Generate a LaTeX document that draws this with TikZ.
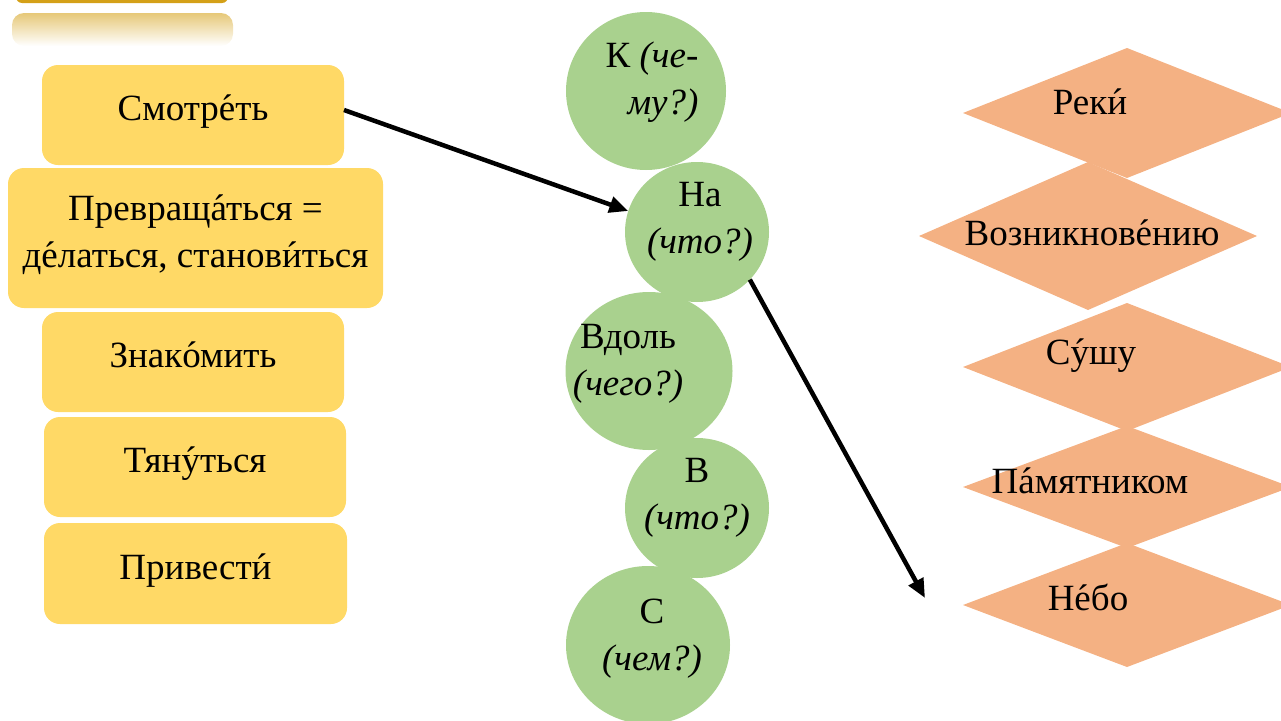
\documentclass[tikz,border=0pt]{standalone}
\usepackage{fontspec}
\setmainfont{Liberation Serif}
\usetikzlibrary{shapes.geometric,arrows.meta}
\definecolor{boxyellow}{HTML}{FFD966}
\definecolor{circgreen}{HTML}{A9D18E}
\definecolor{diaorange}{HTML}{F4B183}
\definecolor{topgold}{HTML}{D4A017}
\definecolor{fadegold}{HTML}{E6C878}
\newcommand\strs[1]{\accent"00B4 #1}
\begin{document}
\begin{tikzpicture}[x=1pt,y=-1pt,
  every node/.style={font=\fontsize{37}{47}\selectfont, inner sep=0pt, outer sep=0pt},
  ybox/.style={rectangle, rounded corners=16pt, fill=boxyellow, align=center, text depth=14pt},
  gcirc/.style={ellipse, fill=circgreen},
  odia/.style={diamond, fill=diaorange, minimum width=328pt},
  label/.style={align=center},
  conn/.style={line width=4.5pt, -{Triangle[length=19pt,width=16pt]}}]
\useasboundingbox (0,0) rectangle (1281,720);
\clip (0,0) rectangle (1281,720);
% top decorations
\fill[topgold, rounded corners=6pt] (16,-20) rectangle (228,3);
\shade[top color=fadegold, bottom color=white, rounded corners=12pt] (12,13) rectangle (233,46);
% yellow boxes
\node[ybox, minimum width=302pt, minimum height=100pt] (s1) at (193,115) {Смотр\strs{е}ть};
\node[ybox, minimum width=375pt, minimum height=140pt] (s2) at (195.5,238) {Превращ\strs{а}ться =\\д\strs{е}латься, станов\strs{и}ться};
\node[ybox, minimum width=302pt, minimum height=100pt] (s3) at (193,362) {Знак\strs{о}мить};
\node[ybox, minimum width=302pt, minimum height=100pt] (s4) at (195,467) {Тян\strs{у}ться};
\node[ybox, minimum width=303pt, minimum height=101pt] (s5) at (195.5,573.5) {Привест\strs{и}};
% green ellipses
\node[gcirc, minimum width=160pt, minimum height=158pt] (e1) at (646,91) {};
\node[gcirc, minimum width=167pt, minimum height=158pt] (e3) at (649,371) {};
\node[gcirc, minimum width=164pt, minimum height=158pt] (e5) at (648,645) {};
\node[gcirc, minimum width=144pt, minimum height=140pt] (e2) at (697,232) {};
\node[gcirc, minimum width=144pt, minimum height=140pt] (e4) at (697,508) {};
\node[label] (t1) at (652,82) {К \textit{(че-}\\\hspace*{22pt}\textit{му?)}};
\node[label] (t2) at (700,222) {На\\\textit{(что?)}};
\node[label] (t3) at (628,364) {Вдоль\\\textit{(чего?)}};
\node[label] (t4) at (697,498) {В\\\textit{(что?)}};
\node[label] (t5) at (652,639) {С\\\textit{(чем?)}};
% orange diamonds
\node[odia, minimum height=130pt] (d1) at (1127,113) {};
\node[odia, minimum width=338pt, minimum height=148pt] (d2) at (1088,236) {};
\node[odia, minimum height=128pt] (d3) at (1127,367) {};
\node[odia, minimum height=122pt] (d4) at (1127,487) {};
\node[odia, minimum height=124pt] (d5) at (1127,605) {};
\node (r1) at (1090,102) {Рек\strs{и}};
\node (r2) at (1092,233) {Возникнов\strs{е}нию};
\node (r3) at (1091,356) {С\strs{у}шу};
\node (r4) at (1090,481) {П\strs{а}мятником};
\node (r5) at (1088,597) {Н\strs{е}бо};
% connectors
\coordinate (end2) at (925,598);
\draw[conn] ([yshift=5pt]s1.east) -- (e2.163);
\draw[conn] (e2.-42) -- (end2);
\end{tikzpicture}
\end{document}
